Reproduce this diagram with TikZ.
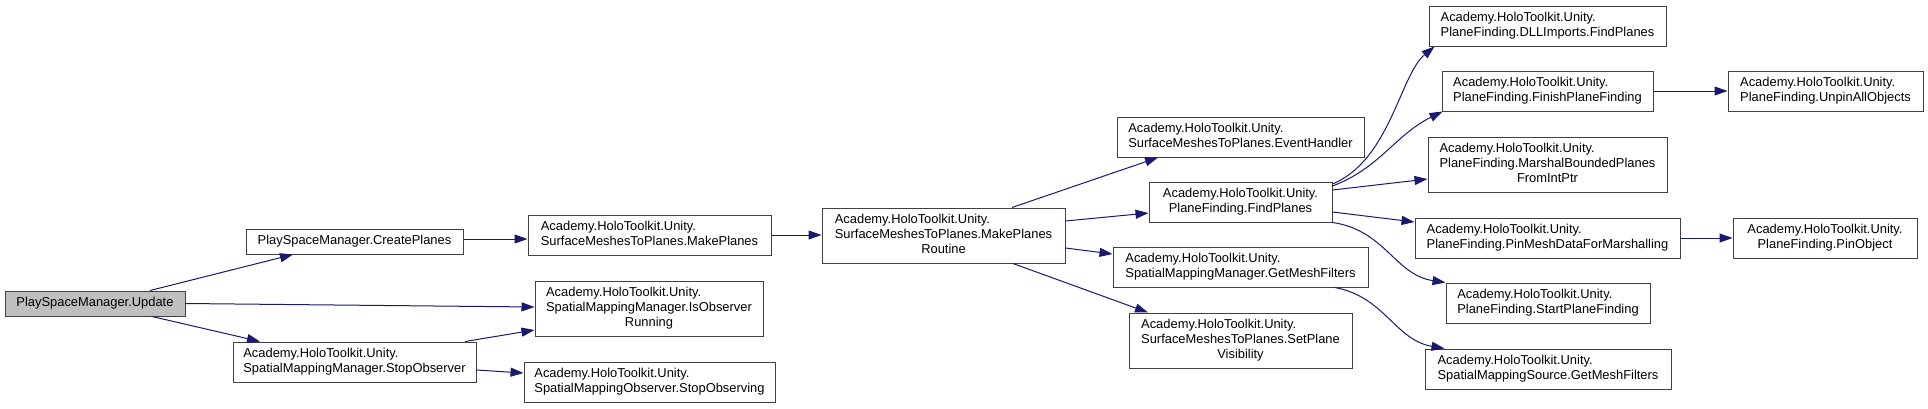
\documentclass[tikz,border=0pt]{standalone}
\usepackage{fontspec}
\setmainfont{Liberation Sans}
\usetikzlibrary{arrows.meta}
\definecolor{edgec}{HTML}{191970}
\definecolor{boxc}{HTML}{404040}
\definecolor{hlfill}{HTML}{BFBFBF}
\newcommand{\ml}[1]{\begin{tabular}{@{}l@{}}#1\end{tabular}}
\newcommand{\lastc}[1]{\multicolumn{1}{@{}c@{}}{#1}}
\newcommand{\AHU}{Academy.HoloToolkit.Unity.}
\begin{document}
\begin{tikzpicture}[x=1pt,y=-1pt,
  box/.style={draw=boxc, line width=1pt, fill=white, inner sep=0pt,
    font=\fontsize{12.9}{15}\selectfont, anchor=center},
  call/.style={draw=edgec, line width=1pt, -{Triangle[length=13pt,width=9pt]}}]
\fill[white] (0,0) rectangle (1928,408);
\useasboundingbox (0,0) rectangle (1928,408);

\node[box, fill=hlfill, minimum width=180pt, minimum height=25pt] (upd) at (95,303.5) {PlaySpaceManager.Update};
\node[box, minimum width=217pt, minimum height=25pt] (cp) at (354.5,241.5) {PlaySpaceManager.CreatePlanes};
\node[box, minimum width=243pt, minimum height=40pt] (so) at (354.5,362) {\ml{\AHU\\\lastc{SpatialMappingManager.StopObserver}}};
\node[box, minimum width=243pt, minimum height=40pt] (mp) at (649.5,235) {\ml{\AHU\\\lastc{SurfaceMeshesToPlanes.MakePlanes}}};
\node[box, minimum width=228pt, minimum height=55pt] (ior) at (649,308.5) {\ml{\AHU\\SpatialMappingManager.IsObserver\\\lastc{Running}}};
\node[box, minimum width=251pt, minimum height=40pt] (sob) at (649.5,382) {\ml{\AHU\\\lastc{SpatialMappingObserver.StopObserving}}};
\node[box, minimum width=243pt, minimum height=55pt] (rt) at (943.5,235.5) {\ml{\AHU\\SurfaceMeshesToPlanes.MakePlanes\\\lastc{Routine}}};
\node[box, minimum width=247pt, minimum height=40pt] (eh) at (1240.5,137) {\ml{\AHU\\\lastc{SurfaceMeshesToPlanes.EventHandler}}};
\node[box, minimum width=183pt, minimum height=40pt] (fp) at (1240.5,202) {\ml{\AHU\\\lastc{PlaneFinding.FindPlanes}}};
\node[box, minimum width=255pt, minimum height=40pt] (gmf) at (1240.5,267) {\ml{\AHU\\\lastc{SpatialMappingManager.GetMeshFilters}}};
\node[box, minimum width=223pt, minimum height=55pt] (spv) at (1240.5,340.5) {\ml{\AHU\\SurfaceMeshesToPlanes.SetPlane\\\lastc{Visibility}}};
\node[box, minimum width=237pt, minimum height=40pt] (dll) at (1547.5,26) {\ml{\AHU\\\lastc{PlaneFinding.DLLImports.FindPlanes}}};
\node[box, minimum width=211pt, minimum height=40pt] (fin) at (1547.5,91) {\ml{\AHU\\\lastc{PlaneFinding.FinishPlaneFinding}}};
\node[box, minimum width=239pt, minimum height=55pt] (mar) at (1547.5,164.5) {\ml{\AHU\\PlaneFinding.MarshalBoundedPlanes\\\lastc{FromIntPtr}}};
\node[box, minimum width=265pt, minimum height=40pt] (pm) at (1547.5,238) {\ml{\AHU\\\lastc{PlaneFinding.PinMeshDataForMarshalling}}};
\node[box, minimum width=204pt, minimum height=40pt] (st) at (1548,303) {\ml{\AHU\\\lastc{PlaneFinding.StartPlaneFinding}}};
\node[box, minimum width=246pt, minimum height=40pt] (sms) at (1548,369) {\ml{\AHU\\\lastc{SpatialMappingSource.GetMeshFilters}}};
\node[box, minimum width=195pt, minimum height=40pt] (unp) at (1825.5,91) {\ml{\AHU\\\lastc{PlaneFinding.UnpinAllObjects}}};
\node[box, minimum width=184pt, minimum height=40pt] (po) at (1825,238) {\ml{\AHU\\\lastc{PlaneFinding.PinObject}}};

\draw[call] ([xshift=55pt]upd.north) -- ([xshift=-61.5pt]cp.south);
\draw[call] (upd.east) -- ([yshift=1.5pt]ior.west);
\draw[call] ([xshift=57pt]upd.south) -- ([xshift=-94.5pt]so.north);
\draw[call] ([yshift=2.5pt]cp.east) -- ([yshift=-4pt]mp.west);
\draw[call] ([xshift=110.5pt]so.north) -- ([yshift=-21.5pt]ior.west);
\draw[call] ([yshift=-8pt]so.east) -- ([yshift=9pt]sob.west);
\draw[call] (mp.east) -- (mp.east -| rt.west);
\draw[call] ([xshift=68.5pt]rt.north) -- ([xshift=-82.5pt]eh.south);
\draw[call] ([yshift=14.5pt]rt.east) -- ([yshift=-11pt]fp.west);
\draw[call] ([yshift=-12.5pt]rt.east) -- ([yshift=13pt]gmf.west);
\draw[call] ([xshift=69.5pt]rt.south) -- ([xshift=-92.5pt]spv.north);
\draw[call] ([yshift=18pt]fp.east) .. controls (1390,160) and (1400,75) .. ([xshift=6pt]dll.south west);
\draw[call] ([yshift=16pt]fp.east) .. controls (1380,168) and (1395,135) .. ([xshift=1pt]fin.south west);
\draw[call] ([yshift=12pt]fp.east) -- ([yshift=-14.5pt]mar.west);
\draw[call] ([yshift=-10pt]fp.east) -- ([yshift=16pt]pm.west);
\draw[call] (fp.south east) .. controls (1385,230) and (1395,275) .. (st.north west);
\draw[call] ([xshift=94.5pt]gmf.south) .. controls (1385,297) and (1395,340) .. ([xshift=20pt]sms.north west);
\draw[call] (fin.east) -- (unp.west);
\draw[call] (pm.east) -- (po.west);
\end{tikzpicture}
\end{document}
